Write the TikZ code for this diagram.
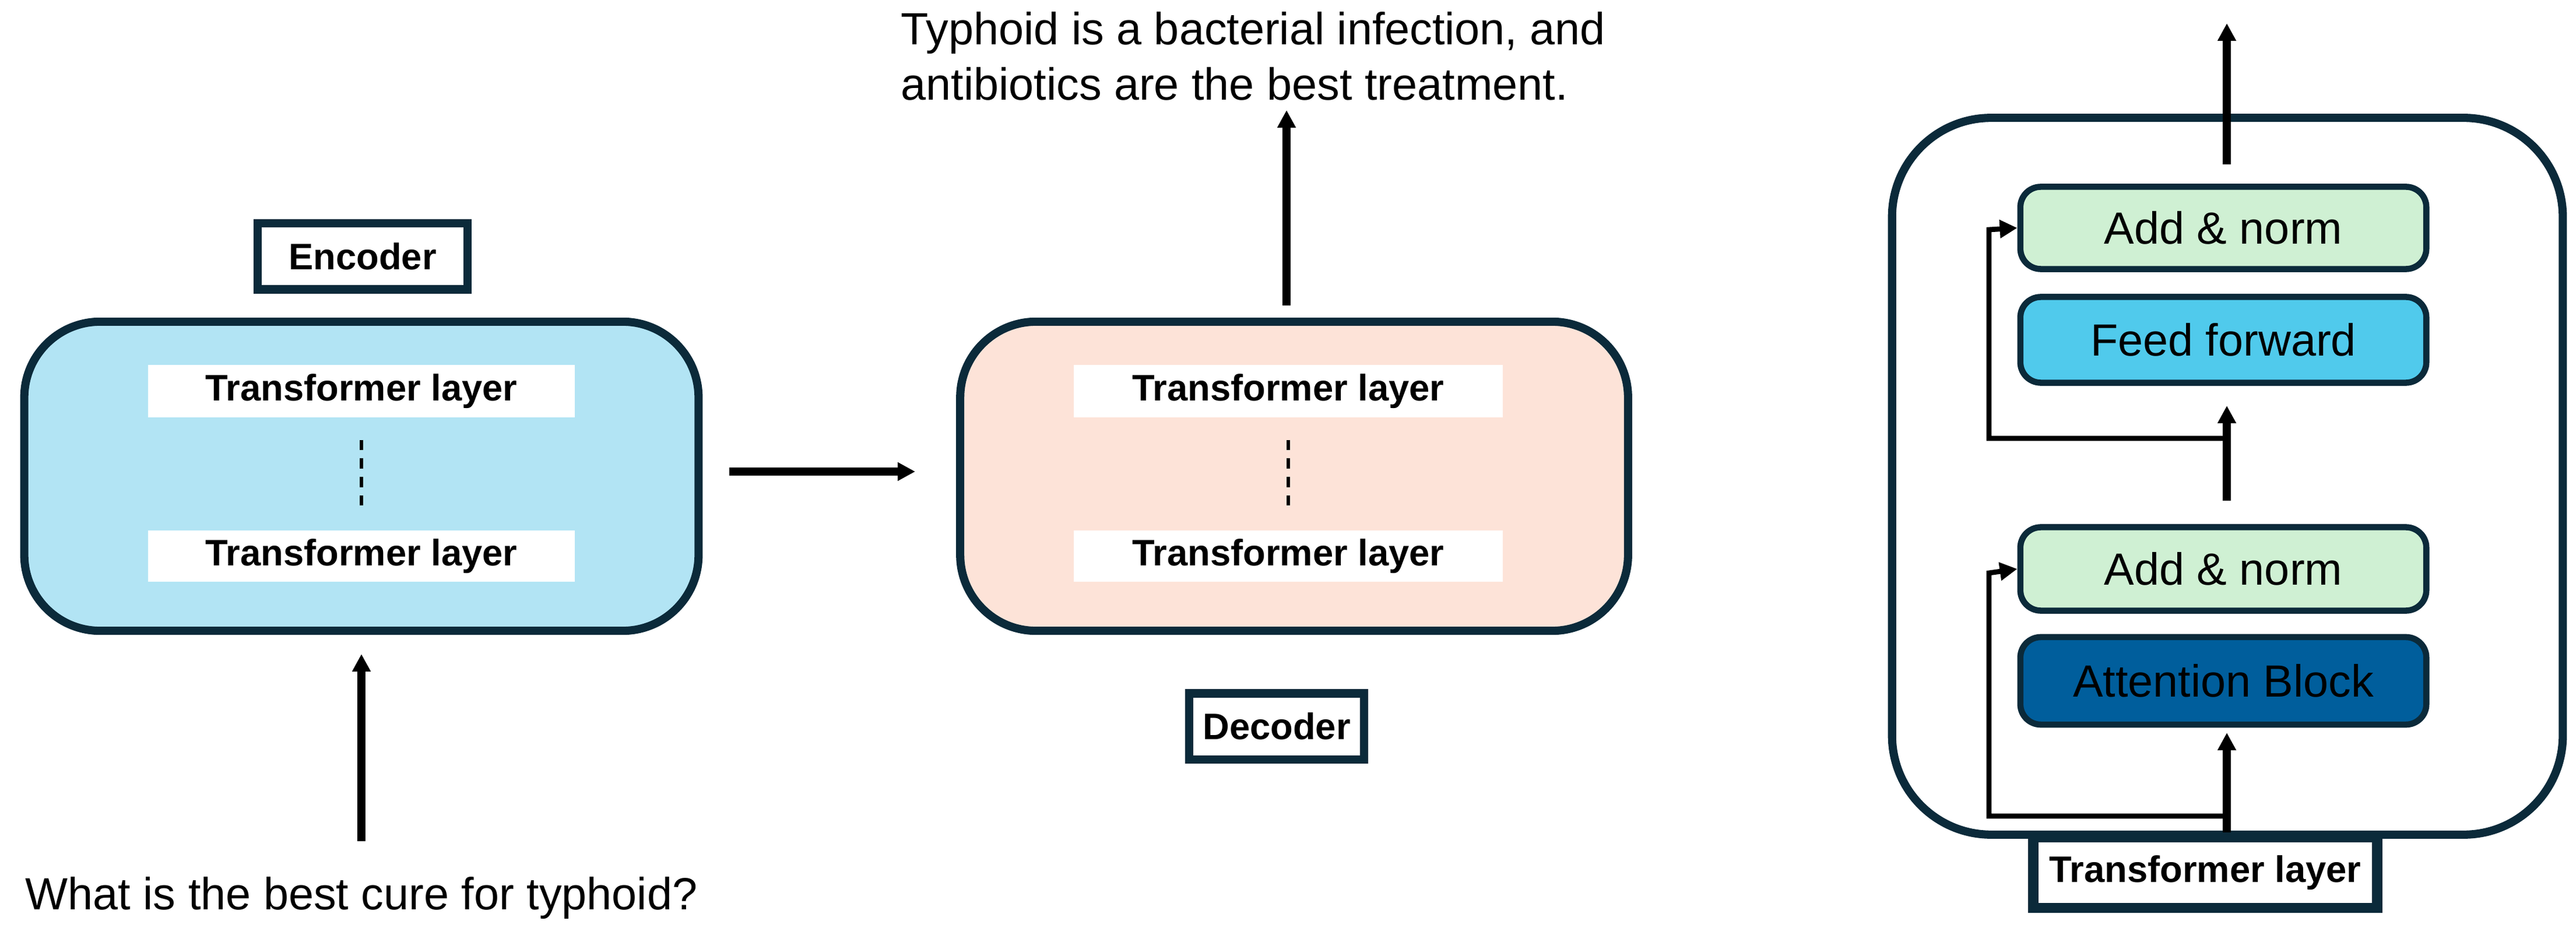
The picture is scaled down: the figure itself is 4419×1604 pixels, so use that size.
\documentclass[tikz,border=0pt]{standalone}
\usepackage{fontspec}
\setmainfont{Liberation Sans}
\usetikzlibrary{arrows.meta,calc}
\definecolor{edge}{HTML}{0B2A3A}
\definecolor{encblue}{HTML}{B2E4F4}
\definecolor{decpink}{HTML}{FDE3D8}
\definecolor{addgreen}{HTML}{CFF0D3}
\definecolor{ffblue}{HTML}{50CAEC}
\definecolor{attblue}{HTML}{005E9C}
\tikzset{
  px/.style={x=0.01cm,y=-0.01cm},
  bigbox/.style={draw=edge,line width=4pt,rounded corners=1.3cm,inner sep=0},
  strip/.style={fill=white,inner sep=0,font=\fontsize{18}{20}\selectfont\bfseries},
  label/.style={draw=edge,line width=4pt,fill=white,inner sep=0,font=\fontsize{18}{20}\selectfont\bfseries},
  layer/.style={draw=edge,line width=3pt,rounded corners=0.35cm,inner sep=0,font=\fontsize{22}{24}\selectfont},
  arr/.style={line width=4pt,-{Triangle[length=0.3cm,width=0.3cm]}},
  thin/.style={line width=2.5pt,-{Triangle[length=0.3cm,width=0.3cm]}},
  dots/.style={line width=1.5pt,dash pattern=on 5pt off 4pt},
  txt/.style={font=\fontsize{22}{27}\selectfont,inner sep=0}
}
\begin{document}
\begin{tikzpicture}[px]
\useasboundingbox (0,0) rectangle (4419,1604);
% Encoder
\node[label,minimum width=3.6cm,minimum height=1.13cm] (enclab) at (622,440) {Encoder};
\node[bigbox,fill=encblue,minimum width=11.56cm,minimum height=5.3cm] (enc) at (620,817) {};
\node[strip,minimum width=7.32cm,minimum height=0.9cm] (e1) at (620,671) {Transformer layer};
\node[strip,minimum width=7.32cm,minimum height=0.88cm] (e2) at (620,954) {Transformer layer};
\draw[dots] ($(e1.south)+(0,38)$) -- ($(e2.north)+(0,-38)$);
% Decoder
\node[bigbox,fill=decpink,minimum width=11.45cm,minimum height=5.3cm] (dec) at (2220,817) {};
\node[strip,minimum width=7.35cm,minimum height=0.9cm] (d1) at (2210,671) {Transformer layer};
\node[strip,minimum width=7.35cm,minimum height=0.88cm] (d2) at (2210,954) {Transformer layer};
\draw[dots] ($(d1.south)+(0,38)$) -- ($(d2.north)+(0,-38)$);
\node[label,minimum width=2.99cm,minimum height=1.13cm] (declab) at (2190,1246) {Decoder};
% connectors
\coordinate (encout) at (1251,809);
\coordinate (decin) at (1570,809);
\draw[arr] (encout) -- (decin);
\node[txt] (q) at (620,1540) {What is the best cure for typhoid?};
\coordinate (qtop) at (620,1443);
\coordinate (encbot) at (620,1122);
\draw[arr] (qtop) -- (encbot);
\coordinate (dectop) at (2207,524);
\coordinate (anstip) at (2207,189);
\node[txt,align=left,anchor=north west] (ans) at (1545,20) {Typhoid is a bacterial infection, and\\antibiotics are the best treatment.};
\draw[arr] (dectop) -- (anstip);
% Right
\node[draw=edge,line width=4pt,rounded corners=1.7cm,minimum width=11.5cm,minimum height=12.29cm,inner sep=0] (outer) at (3821,817) {};
\node[layer,fill=addgreen,minimum width=6.96cm,minimum height=1.41cm] (an2) at (3814,391) {Add \& norm};
\node[layer,fill=ffblue,minimum width=6.96cm,minimum height=1.47cm] (ff) at (3814,583) {Feed forward};
\node[layer,fill=addgreen,minimum width=6.96cm,minimum height=1.43cm] (an1) at (3814,976) {Add \& norm};
\node[layer,fill=attblue,minimum width=6.96cm,minimum height=1.5cm] (att) at (3814,1168) {Attention Block};
\node[label,line width=5pt,minimum width=5.9cm,minimum height=1.21cm] (tl) at (3783,1497) {Transformer layer};
\coordinate (b1) at (3820,1400);
\coordinate (b2) at (3820,752);
\draw[arr] ($(tl.north)+(37,0)$) -- (3820,1257);
\draw[thin] (b1) -- (3412,1400) -- (3412,983) -- (an1.west);
\draw[arr] (3820,859) -- (3820,696);
\draw[thin] (b2) -- (3412,752) -- (3412,394) -- (an2.west);
\draw[arr] (3820,282) -- (3820,40);
\end{tikzpicture}
\end{document}
